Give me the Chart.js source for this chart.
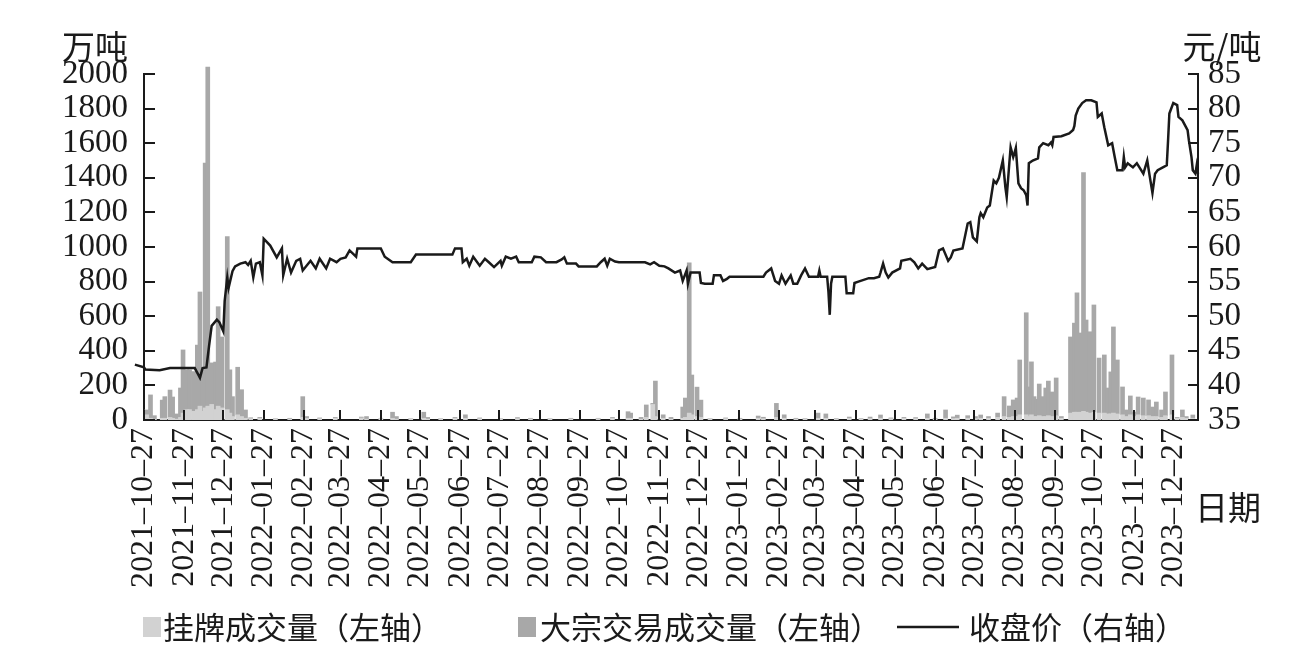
<!DOCTYPE html>
<html lang="zh">
<head>
<meta charset="utf-8">
<title>成交量与收盘价</title>
<script src="https://cdn.jsdelivr.net/npm/chart.js@4/dist/chart.umd.min.js"></script>
<style>
  html, body { margin: 0; padding: 0; background: #fff; }
  #wrap { position: relative; width: 1298px; height: 656px; }
</style>
</head>
<body>
<div id="wrap"><canvas id="chart"></canvas></div>
<script>
// eixo x: dias desde 2021-10-27
const tickLabels = ['2021–10–27','2021–11–27','2021–12–27','2022–01–27','2022–02–27','2022–03–27','2022–04–27',
  '2022–05–27','2022–06–27','2022–07–27','2022–08–27','2022–09–27','2022–10–27','2022–11–27','2022–12–27',
  '2023–01–27','2023–02–27','2023–03–27','2023–04–27','2023–05–27','2023–06–27','2023–07–27','2023–08–27',
  '2023–09–27','2023–10–27','2023–11–27','2023–12–27'];
const volTicks = [0,200,400,600,800,1000,1200,1400,1600,1800,2000];
const priceTicks = [35,40,45,50,55,60,65,70,75,80,85];

// 收盘价 (元/吨)
const priceDays = [-7,0,1,12,20,28,39,41,43,45,48,50,52,56,58,61,62,64,65,68,70,74,78,80,82,84,86,89,91,92,97,102,106,107,110,113,117,120,122,128,132,135,140,143,148,151,155,158,163,164,182,185,191,205,209,237,239,244,245,248,250,253,258,262,265,269,274,275,278,282,286,288,298,300,305,309,317,321,323,325,332,334,348,351,354,356,358,362,365,381,385,389,392,396,400,403,408,412,414,417,418,420,427,428,431,437,438,443,445,448,450,476,478,482,485,488,490,493,497,499,502,505,508,511,518,519,520,525,526,527,528,529,539,540,545,546,549,557,561,565,566,568,570,572,575,581,582,589,592,595,598,602,608,611,614,618,620,622,629,630,633,635,637,640,642,643,645,648,650,653,655,657,660,662,663,665,666,668,669,670,672,674,676,678,679,680,683,687,688,691,695,697,698,699,705,711,714,715,716,718,721,724,728,732,733,736,738,741,744,746,748,752,753,754,756,760,763,765,768,771,773,775,777,779,783,786,787,788,791,794,795,798,802,803,805,806,808,809,810,813,816];
const closePrice = [43.0,42.6,42.3,42.2,42.5,42.5,42.5,41.8,41.1,42.5,42.6,45.7,48.6,49.5,49.1,47.8,52.2,55.6,54.1,56.5,57.2,57.6,57.8,57.4,58.0,55.6,57.6,57.8,55.9,61.2,60.2,58.5,59.8,55.9,58.3,56.3,58.0,58.3,56.6,58.0,56.9,58.3,56.9,58.3,57.8,58.3,58.5,59.5,58.6,59.8,59.8,58.6,57.8,57.8,58.9,58.9,59.8,59.8,57.8,58.3,57.3,58.6,57.3,58.3,57.8,57.1,58.0,57.3,58.6,58.3,58.6,57.8,57.8,58.6,58.5,57.8,57.8,58.2,58.5,57.6,57.6,57.2,57.2,57.8,58.3,57.3,58.3,57.9,57.8,57.8,57.8,57.5,57.8,57.3,57.2,56.9,56.3,56.6,55.1,56.6,54.7,56.3,56.3,54.8,54.7,54.7,55.9,55.9,55.1,55.4,55.7,55.7,56.3,56.9,55.1,54.7,55.9,54.7,55.9,54.7,54.7,55.9,56.9,55.7,55.7,56.6,55.7,55.7,53.5,50.2,54.7,55.7,55.7,53.3,53.3,54.8,55.0,55.5,55.5,55.7,56.3,57.6,56.3,55.6,56.3,56.9,58.0,58.3,57.8,56.9,57.6,56.8,57.1,59.5,59.8,58.0,58.5,59.5,59.8,60.7,63.4,63.6,61.4,60.8,64.3,64.9,64.3,65.7,66.0,69.6,69.2,70.0,72.5,68.6,67.2,72.1,74.4,73.0,73.6,74.3,69.2,68.5,68.2,67.5,66.0,72.1,72.5,72.8,74.4,75.0,74.7,75.1,74.7,75.9,76.0,76.4,76.9,77.5,79.0,80.0,80.8,81.2,81.2,80.9,78.8,79.3,77.3,74.7,75.0,73.0,71.1,71.1,73.0,71.5,72.1,71.5,72.1,71.5,70.6,72.5,70.1,67.8,70.6,71.1,71.5,71.8,75.4,79.3,80.8,80.5,78.8,78.3,76.9,75.4,73.0,71.1,70.6,71.8,70.6,71.8,71.8];

// 成交量 (万吨)
const barDays = [2,5,8,14,16,20,22,25,28,30,33,35,38,41,43,45,47,49,52,55,57,60,64,66,68,72,75,78,82,
  89,101,112,122,125,135,147,167,171,182,191,194,205,215,218,228,239,247,258,274,287,297,312,328,349,360,
  372,374,382,386,391,393,399,405,414,416,419,421,425,428,435,447,458,472,476,486,492,501,508,518,524,532,
  542,551,558,566,574,584,593,602,608,616,622,625,633,639,643,649,656,661,665,668,671,673,678,680,682,684,
  686,688,691,693,695,698,701,705,712,715,717,720,722,724,727,730,734,738,741,743,745,748,752,755,758,761,
  764,768,772,775,778,782,785,790,794,798,801,806];
const listedVol = [30,10,5,10,10,15,10,5,15,40,60,60,50,60,80,50,70,80,90,60,80,70,60,40,20,30,20,10,8,
  10,8,6,15,10,8,10,12,5,10,10,5,8,10,5,8,10,10,8,8,8,6,8,6,8,10,
  10,10,5,15,90,20,10,5,10,15,40,30,20,15,8,8,6,10,8,15,10,6,6,10,10,5,
  10,5,8,10,8,10,8,10,6,10,8,10,10,8,10,10,15,20,15,20,20,30,30,20,30,20,
  20,25,20,20,25,20,25,10,40,45,45,45,50,45,40,45,40,40,35,35,40,35,30,20,30,20,
  30,25,25,20,20,15,25,30,10,15,10,10];
const blockVol = [28,135,20,105,125,158,123,30,170,365,230,230,230,373,660,240,1415,1960,240,275,575,410,1000,250,115,275,155,48,5,
  5,0,4,120,10,4,5,5,15,0,35,15,0,35,10,0,5,20,4,0,6,4,0,4,2,5,
  38,30,10,72,6,205,20,10,65,112,868,230,170,100,0,4,4,13,8,81,20,4,2,30,25,3,
  7,3,9,19,4,5,6,25,4,48,10,18,15,12,19,10,25,115,66,96,107,317,590,171,306,115,
  100,183,115,165,200,142,218,10,440,515,690,458,1380,533,470,620,318,336,150,243,498,312,161,38,109,26,
  103,102,91,55,84,43,137,346,5,43,10,19];

const INK = '#1a1a1a';
const COR_LISTADO = '#d2d2d2';
const COR_BLOCO = '#a8a8a8';
const FONTE_NUM = '"Liberation Serif", "Times New Roman", serif';
const FONTE_CJK = '"Noto Sans CJK SC", "Noto Sans", sans-serif';

const dia0 = Date.UTC(2021, 9, 27);
const tickDays = tickLabels.map(s => {
    const [a, m, d] = s.split('–').map(Number);
    return Math.round((Date.UTC(a, m - 1, d) - dia0) / 86400000);
});

// marcas dos eixos para dentro + títulos + legenda
const extras = {
    id: 'extras',
    afterDraw(chart) {
        const { ctx, chartArea: a, scales } = chart;
        ctx.save();
        ctx.strokeStyle = INK;
        ctx.lineWidth = 2;
        ctx.beginPath();
        scales.x.ticks.forEach(t => {
            const px = Math.round(scales.x.getPixelForValue(t.value));
            ctx.moveTo(px, a.bottom); ctx.lineTo(px, a.bottom - 10);
        });
        scales.y.ticks.forEach(t => {
            const py = Math.round(scales.y.getPixelForValue(t.value));
            ctx.moveTo(a.left, py); ctx.lineTo(a.left + 11, py);
        });
        scales.y1.ticks.forEach(t => {
            const py = Math.round(scales.y1.getPixelForValue(t.value));
            ctx.moveTo(a.right, py); ctx.lineTo(a.right - 10, py);
        });
        ctx.stroke();

        // títulos dos eixos
        ctx.fillStyle = INK;
        ctx.font = '33px ' + FONTE_CJK;
        ctx.textBaseline = 'middle';
        ctx.textAlign = 'right';
        ctx.fillText('万吨', a.left - 16, 46);
        ctx.textAlign = 'center';
        ctx.fillText('元/吨', a.right + 24, 46);
        ctx.textAlign = 'left';
        ctx.fillText('日期', a.right - 3, 507);

        // legenda
        ctx.font = '31px ' + FONTE_CJK;
        const ly = 627;
        let x = 143;
        ctx.fillStyle = COR_LISTADO;
        ctx.fillRect(x, ly - 10, 18, 20);
        x += 20;
        ctx.fillStyle = INK;
        ctx.fillText('挂牌成交量（左轴）', x, ly);
        x += ctx.measureText('挂牌成交量（左轴）').width + 76;
        ctx.fillStyle = COR_BLOCO;
        ctx.fillRect(x, ly - 10, 18, 20);
        x += 22;
        ctx.fillStyle = INK;
        ctx.fillText('大宗交易成交量（左轴）', x, ly);
        x += ctx.measureText('大宗交易成交量（左轴）').width + 16;
        ctx.lineWidth = 2.5;
        ctx.beginPath(); ctx.moveTo(x, ly); ctx.lineTo(x + 62, ly); ctx.stroke();
        x += 72;
        ctx.fillText('收盘价（右轴）', x, ly);
        ctx.restore();
    }
};

new Chart(document.getElementById('chart'), {
    type: 'bar',
    data: {
        datasets: [
            {
                type: 'line', label: '收盘价（右轴）', yAxisID: 'y1', order: 0,
                data: priceDays.map((d, i) => ({ x: d, y: closePrice[i] })),
                borderColor: INK, borderWidth: 2.5, pointRadius: 0, tension: 0, clip: false
            },
            {
                label: '挂牌成交量（左轴）', yAxisID: 'y', order: 1, stack: 'vol',
                data: barDays.map((d, i) => ({ x: d, y: listedVol[i] })),
                backgroundColor: COR_LISTADO, barThickness: 4
            },
            {
                label: '大宗交易成交量（左轴）', yAxisID: 'y', order: 2, stack: 'vol',
                data: barDays.map((d, i) => ({ x: d, y: blockVol[i] })),
                backgroundColor: COR_BLOCO, barThickness: 4, clip: false
            }
        ]
    },
    options: {
        responsive: true, maintainAspectRatio: false, animation: false,
        layout: { padding: { top: 74, left: 0, right: 0, bottom: 0 } },
        plugins: { legend: { display: false }, tooltip: { enabled: false } },
        scales: {
            x: {
                type: 'linear', min: 0, max: 810, stacked: true, offset: false,
                grid: { display: false, drawTicks: false },
                border: { color: INK, width: 2 },
                afterBuildTicks: s => { s.ticks = tickDays.map(v => ({ value: v })); },
                afterFit: s => { s.height = 236; },
                ticks: {
                    autoSkip: false, minRotation: 90, maxRotation: 90, padding: 8, color: INK,
                    font: { family: FONTE_NUM, size: 32 },
                    callback: (v, i) => tickLabels[i]
                }
            },
            y: {
                position: 'left', min: 0, max: 2000, stacked: true,
                grid: { display: false, drawTicks: false },
                border: { color: INK, width: 2 },
                afterBuildTicks: s => { s.ticks = volTicks.map(v => ({ value: v })); },
                afterFit: s => { s.width = 144; },
                ticks: { autoSkip: false, padding: 16, color: INK, font: { family: FONTE_NUM, size: 33 }, callback: v => String(v) }
            },
            y1: {
                position: 'right', min: 35, max: 85,
                grid: { display: false, drawTicks: false },
                border: { color: INK, width: 2 },
                afterBuildTicks: s => { s.ticks = priceTicks.map(v => ({ value: v })); },
                afterFit: s => { s.width = 100; },
                ticks: { autoSkip: false, padding: 10, color: INK, font: { family: FONTE_NUM, size: 33 }, callback: v => String(v) }
            }
        }
    },
    plugins: [extras]
});
</script>
</body>
</html>
